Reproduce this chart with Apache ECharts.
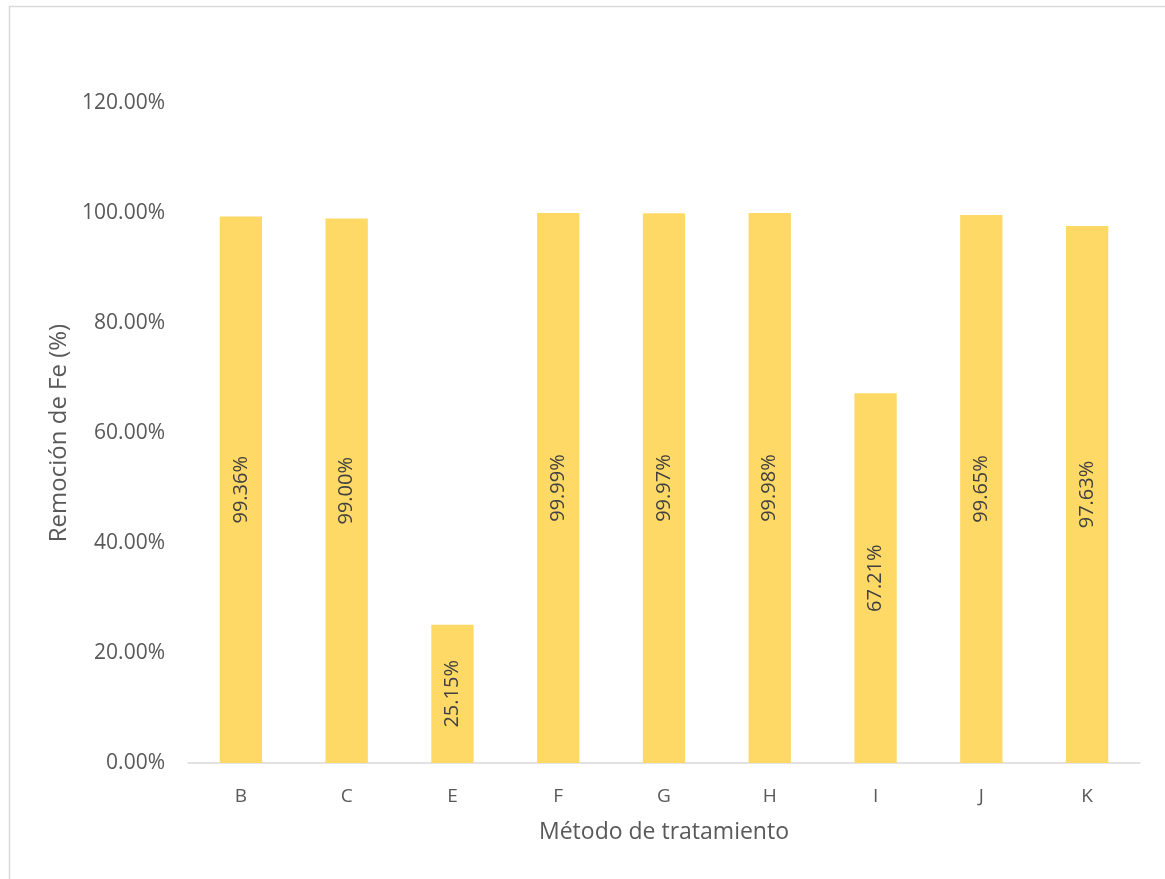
<!DOCTYPE html>
<html>
<head>
<meta charset="utf-8">
<script src="https://cdn.jsdelivr.net/npm/echarts@6/dist/echarts.min.js"></script>
<style>
  html, body { margin: 0; padding: 0; background: #ffffff; }
  #chart { width: 1165px; height: 879px; }
</style>
</head>
<body>
<div id="chart"></div>
<script>
// Treatment methods and their Fe removal (%)
const categories = ['B', 'C', 'E', 'F', 'G', 'H', 'I', 'J', 'K'];
const removal = [99.36, 99.00, 25.15, 99.99, 99.97, 99.98, 67.21, 99.65, 97.63];
const yTicks = { min: 0, max: 120, step: 20 };

const textColor = '#595959';
const fontFamily = '"Open Sans", "Noto Sans", sans-serif';

const chart = echarts.init(document.getElementById('chart'), null, { renderer: 'canvas' });

chart.setOption({
  animation: false,
  backgroundColor: '#ffffff',
  graphic: [{
    type: 'rect',
    left: 7,
    top: 4,
    shape: { width: 1200, height: 1000 },
    style: { fill: 'none', stroke: '#d9d9d9', lineWidth: 1.5 },
    silent: true,
    z: -1
  }],
  grid: { left: 188, right: 25, top: 103, bottom: 116, containLabel: false },
  xAxis: {
    type: 'category',
    data: categories,
    name: 'Método de tratamiento',
    nameLocation: 'middle',
    nameGap: 58,
    nameTextStyle: { color: textColor, fontSize: 23, fontFamily: fontFamily },
    axisLine: { show: true, lineStyle: { color: '#d9d9d9', width: 1.5 } },
    axisTick: { show: false },
    axisLabel: { color: textColor, fontSize: 19, fontFamily: fontFamily, margin: 24 }
  },
  yAxis: {
    type: 'value',
    min: yTicks.min,
    max: yTicks.max,
    interval: yTicks.step,
    name: 'Remoción de Fe (%)',
    nameLocation: 'middle',
    nameGap: 114,
    nameTextStyle: { color: textColor, fontSize: 24, fontFamily: fontFamily },
    axisLine: { show: false },
    axisTick: { show: false },
    splitLine: { show: false },
    axisLabel: {
      color: textColor, fontSize: 21, fontFamily: fontFamily, margin: 23,
      formatter: v => v.toFixed(2) + '%'
    }
  },
  series: [{
    type: 'bar',
    data: removal,
    barCategoryGap: '60%',
    itemStyle: { color: '#FFD966' },
    label: {
      show: true,
      position: 'inside',
      rotate: 90,
      color: '#404040',
      fontSize: 20,
      fontFamily: fontFamily,
      formatter: p => p.value.toFixed(2) + '%'
    }
  }]
});
</script>
</body>
</html>
